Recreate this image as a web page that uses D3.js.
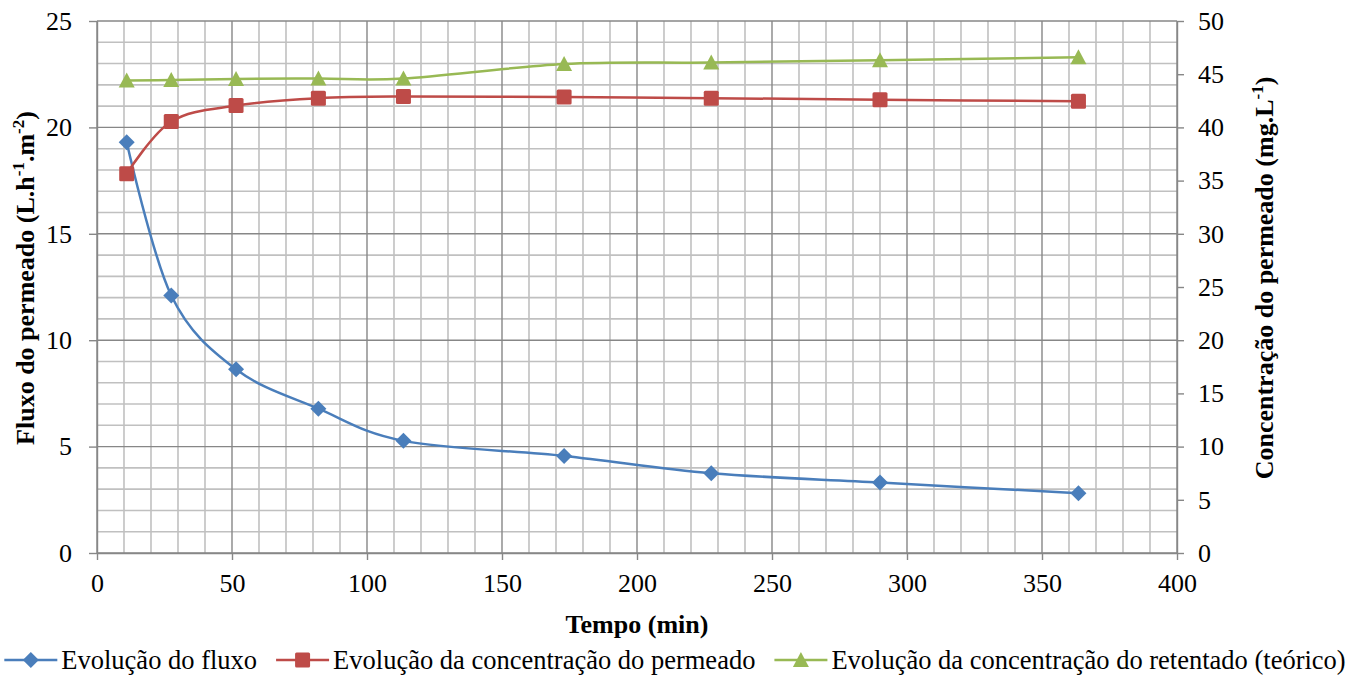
<!DOCTYPE html>
<html><head><meta charset="utf-8">
<script src="https://cdn.jsdelivr.net/npm/d3@7"></script>
<style>body{margin:0;background:#fff}svg{display:block}svg text{font-family:"Liberation Serif"}</style>
</head><body>
<svg id="c" width="1362" height="677"></svg>
<script>
const tempo = [11, 27.5, 51.5, 82, 113.5, 173, 227.5, 290, 363.5];
const fluxo = [19.3, 12.1, 8.63, 6.78, 5.27, 4.56, 3.75, 3.31, 2.81];
const permeado = [35.65, 40.55, 42.05, 42.75, 42.9, 42.85, 42.75, 42.6, 42.45];
const retentado = [44.4, 44.45, 44.55, 44.6, 44.6, 45.95, 46.1, 46.3, 46.6];
const xTicks = [0, 50, 100, 150, 200, 250, 300, 350, 400];
const yLeftTicks = [0, 5, 10, 15, 20, 25];
const yRightTicks = [0, 5, 10, 15, 20, 25, 30, 35, 40, 45, 50];
const seriesNames = ["Evolução do fluxo", "Evolução da concentração do permeado", "Evolução da concentração do retentado (teórico)"];

const L = 97, R = 1177, T = 21, B = 553;
const FONT = "Liberation Serif";
const svg = d3.select("#c");
const x = d3.scaleLinear().domain([0, 400]).range([L, R]);
const yL = d3.scaleLinear().domain([0, 25]).range([B, T]);
const yR = d3.scaleLinear().domain([0, 50]).range([B, T]);

const minorCol = "#c0c0c0", majorCol = "#878787";
const g = svg.append("g");
d3.range(0, 401, 10).filter(v => v % 50 !== 0).forEach(v => {
  g.append("line").attr("x1", x(v)).attr("x2", x(v)).attr("y1", T).attr("y2", B)
    .attr("stroke", minorCol).attr("stroke-width", 1.6);
});
d3.range(0, 26, 1).filter(v => v % 5 !== 0).forEach(v => {
  g.append("line").attr("x1", L).attr("x2", R).attr("y1", yL(v)).attr("y2", yL(v))
    .attr("stroke", minorCol).attr("stroke-width", 1.6);
});
xTicks.forEach(v => {
  g.append("line").attr("x1", x(v)).attr("x2", x(v)).attr("y1", T).attr("y2", B)
    .attr("stroke", majorCol).attr("stroke-width", 1.4);
});
yLeftTicks.forEach(v => {
  g.append("line").attr("x1", L).attr("x2", R).attr("y1", yL(v)).attr("y2", yL(v))
    .attr("stroke", majorCol).attr("stroke-width", 1.4);
});

function styleAxis(sel) {
  sel.attr("font-family", FONT).attr("font-size", 26);
  sel.selectAll(".domain").attr("stroke", majorCol).attr("stroke-width", 1.4);
  sel.selectAll(".tick line").attr("stroke", majorCol).attr("stroke-width", 1.4);
  sel.selectAll("text").attr("font-family", FONT).attr("font-size", 26).attr("fill", "#000");
}
const ax = svg.append("g").attr("transform", `translate(0,${B})`)
  .call(d3.axisBottom(x).tickValues(xTicks).tickSize(7).tickSizeOuter(0).tickPadding(14));
styleAxis(ax);
const ayl = svg.append("g").attr("transform", `translate(${L},0)`)
  .call(d3.axisLeft(yL).tickValues(yLeftTicks).tickSize(8).tickSizeOuter(0).tickPadding(17));
styleAxis(ayl);
const ayr = svg.append("g").attr("transform", `translate(${R},0)`)
  .call(d3.axisRight(yR).tickValues(yRightTicks).tickSize(7).tickSizeOuter(0).tickPadding(14));
styleAxis(ayr);

const curve = d3.curveCatmullRom.alpha(0);
const series = [
  {vals: fluxo, y: yL, color: "#4a7ebb", marker: "diamond"},
  {vals: permeado, y: yR, color: "#be4b48", marker: "square"},
  {vals: retentado, y: yR, color: "#98b954", marker: "triangle"}
];
function drawMarker(sel, type, cx, cy, color) {
  if (type === "diamond") {
    sel.append("path").attr("d", `M${cx},${cy-8}L${cx+8},${cy}L${cx},${cy+8}L${cx-8},${cy}Z`).attr("fill", color);
  } else if (type === "square") {
    sel.append("rect").attr("x", cx-7.5).attr("y", cy-7.5).attr("width", 15).attr("height", 15).attr("rx", 1.5).attr("fill", color);
  } else {
    sel.append("path").attr("d", `M${cx},${cy-8}L${cx+8},${cy+7}L${cx-8},${cy+7}Z`).attr("fill", color);
  }
}
series.forEach(s => {
  const pts = tempo.map((t, i) => [x(t), s.y(s.vals[i])]);
  svg.append("path").attr("d", d3.line().curve(curve)(pts)).attr("fill", "none")
    .attr("stroke", s.color).attr("stroke-width", 2.5);
});
series.forEach(s => {
  const mg = svg.append("g");
  tempo.forEach((t, i) => drawMarker(mg, s.marker, x(t), s.y(s.vals[i]), s.color));
});

svg.append("text").attr("x", (L + R) / 2).attr("y", 633).attr("text-anchor", "middle")
  .attr("font-family", FONT).attr("font-size", 26).attr("font-weight", "bold").text("Tempo (min)");

const lt = svg.append("text").attr("transform", "translate(34,278) rotate(-90)").attr("text-anchor", "middle")
  .attr("font-family", FONT).attr("font-size", 26).attr("font-weight", "bold");
lt.append("tspan").text("Fluxo do permeado (L.h");
lt.append("tspan").attr("font-size", 17).attr("dy", -10).text("-1");
lt.append("tspan").attr("dy", 10).text(".m");
lt.append("tspan").attr("font-size", 17).attr("dy", -10).text("-2");
lt.append("tspan").attr("dy", 10).text(")");

const rt = svg.append("text").attr("transform", "translate(1273,278) rotate(-90)").attr("text-anchor", "middle")
  .attr("font-family", FONT).attr("font-size", 26).attr("font-weight", "bold");
rt.append("tspan").text("Concentração do permeado (mg.L");
rt.append("tspan").attr("font-size", 17).attr("dy", -10).text("-1");
rt.append("tspan").attr("dy", 10).text(")");

const lg = svg.append("g");
let cur = 0;
const items = [];
const GAP = 19;
series.forEach((s, i) => {
  const it = lg.append("g");
  it.append("line").attr("x1", 0).attr("x2", 53).attr("y1", 0).attr("y2", 0).attr("stroke", s.color).attr("stroke-width", 2.5);
  drawMarker(it, s.marker, 26.5, 0, s.color);
  const tx = it.append("text").attr("x", 57).attr("y", 9).attr("font-family", FONT).attr("font-size", 26.5).text(seriesNames[i]);
  const w = 57 + tx.node().getComputedTextLength();
  items.push({it, start: cur});
  cur += w + GAP;
});
const total = cur - GAP;
const off = 675 - total / 2;
items.forEach(d => d.it.attr("transform", `translate(${off + d.start},660)`));
</script>
</body></html>
